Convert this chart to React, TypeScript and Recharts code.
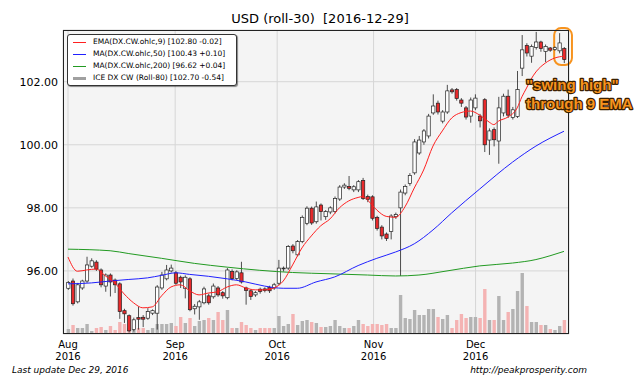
import { ComposedChart, Bar, Line, XAxis, YAxis, CartesianGrid, Cell, ReferenceArea } from "recharts";

// ICE DX CW daily candles, Aug 1 - Dec 29 2016
const opens = [
  95.45, 95.68, 95.02, 95.46, 95.68, 96.15, 96.28, 96.03, 95.52, 95.87,
  95.71, 95.59, 94.74, 94.58, 94.14, 94.52, 94.53, 94.5, 94.66, 94.66,
  95.46, 95.75, 96.0, 95.94, 95.8, 95.45, 95.75, 94.8, 94.86, 94.99,
  95.21, 95.18, 95.46, 95.31, 95.15, 95.98, 95.76, 95.94, 95.46, 95.37,
  95.24, 95.42, 95.43, 95.48, 95.46, 95.61, 96.08, 96.09, 96.79, 96.51,
  96.93, 97.51, 97.99, 97.56, 98.09, 97.72, 97.87, 97.88, 98.28, 98.66,
  98.68, 98.57, 98.57, 98.87, 98.36, 98.35, 97.7, 97.39, 97.17, 97.25,
  97.72, 98.0, 98.47, 98.77, 99.11, 99.74, 100.09, 100.28, 101.01, 101.32,
  100.75, 101.04, 101.74, 101.75, 101.42, 101.17, 100.91, 101.17, 100.91, 101.43,
  100.15, 100.48, 100.12, 101.01, 101.54, 100.87, 100.9, 102.43, 103.15, 102.81,
  103.09, 103.26, 102.96, 103.07, 103.02, 102.98, 103.05,
];
const highs = [
  95.68, 95.76, 95.62, 95.72, 96.45, 96.4, 96.34, 96.08, 95.92, 95.92,
  95.76, 95.64, 94.8, 94.62, 94.52, 94.87, 94.6, 94.82, 94.78, 95.55,
  95.97, 96.19, 96.2, 96.0, 95.85, 95.86, 95.8, 94.95, 95.08, 95.5,
  95.28, 95.6, 95.52, 95.36, 96.09, 96.05, 96.02, 96.29, 95.5, 95.42,
  95.36, 95.47, 95.48, 95.53, 95.62, 96.35, 96.14, 96.82, 96.85, 96.98,
  97.76, 98.05, 98.04, 98.2, 98.14, 97.93, 98.05, 98.36, 98.72, 98.78,
  99.01, 98.72, 98.88, 98.95, 98.42, 98.4, 97.75, 97.45, 97.22, 97.8,
  97.85, 98.58, 98.74, 99.1, 100.18, 100.28, 100.5, 100.98, 101.6, 101.4,
  101.1, 101.9, 101.8, 101.8, 101.48, 101.23, 101.5, 101.6, 100.98, 101.48,
  100.52, 100.55, 101.52, 101.62, 101.75, 101.2, 102.34, 103.48, 103.22, 103.18,
  103.58, 103.3, 103.18, 103.1, 103.12, 103.54, 103.1,
];
const lows = [
  95.4, 94.9, 94.97, 95.4, 95.62, 96.1, 96.0, 95.48, 95.34, 95.19,
  95.3, 94.48, 94.35, 94.05, 94.08, 94.14, 94.22, 94.45, 94.6, 94.14,
  95.4, 95.7, 95.95, 95.56, 95.46, 95.13, 94.72, 94.62, 94.45, 94.94,
  94.93, 95.12, 95.18, 95.12, 95.1, 95.7, 95.7, 95.6, 94.93, 95.08,
  95.18, 95.28, 95.32, 95.3, 95.4, 95.55, 95.98, 96.03, 96.56, 96.46,
  96.88, 97.45, 97.46, 97.5, 97.6, 97.62, 97.8, 97.82, 98.22, 98.6,
  98.56, 98.5, 98.5, 98.25, 98.18, 97.6, 97.28, 97.0, 96.95, 97.0,
  97.65, 95.84, 98.4, 98.7, 99.05, 99.68, 100.0, 100.2, 100.95, 100.96,
  100.68, 100.98, 101.62, 101.4, 101.2, 100.8, 100.7, 101.1, 100.55, 99.77,
  99.68, 99.95, 99.4, 100.9, 100.85, 100.8, 100.85, 102.18, 102.8, 102.6,
  103.02, 102.95, 102.62, 102.95, 102.98, 102.9, 102.59,
];
const closes = [
  95.63, 94.96, 95.56, 95.68, 96.19, 96.32, 96.06, 95.56, 95.87, 95.65,
  95.56, 94.71, 94.64, 94.1, 94.45, 94.47, 94.47, 94.71, 94.74, 95.49,
  95.87, 96.03, 96.09, 95.61, 95.65, 95.8, 94.77, 94.88, 95.02, 95.43,
  94.99, 95.52, 95.24, 95.21, 96.03, 95.76, 95.97, 95.65, 95.38, 95.19,
  95.31, 95.35, 95.38, 95.37, 95.56, 96.09, 96.09, 96.77, 96.64, 96.93,
  97.7, 97.99, 97.52, 98.03, 97.88, 97.88, 98.0, 98.3, 98.66, 98.72,
  98.62, 98.67, 98.83, 98.3, 98.27, 97.67, 97.35, 97.11, 97.03, 97.74,
  97.79, 98.5, 98.68, 99.03, 100.09, 100.15, 100.44, 100.91, 101.23, 101.04,
  101.04, 101.71, 101.68, 101.47, 101.32, 100.88, 101.42, 101.48, 100.76, 100.0,
  100.44, 100.16, 101.17, 101.54, 100.94, 101.11, 101.75, 103.01, 102.91, 103.12,
  103.26, 103.05, 103.12, 103.0, 103.08, 103.23, 102.7,
];
// volume, relative units
const volumes = [
  5, 9, 6, 6, 10, 3, 6, 7, 4, 8,
  4, 12, 10, 6, 4, 6, 6, 4, 6, 10,
  10, 10, 11, 8, 17, 11, 16, 8, 13, 14,
  16, 14, 22, 14, 24, 6, 6, 12, 9, 6,
  4, 6, 6, 6, 6, 18, 8, 10, 20, 9,
  13, 14, 12, 11, 7, 7, 8, 14, 8, 6,
  6, 8, 14, 10, 8, 10, 10, 9, 10, 6,
  6, 39, 16, 15, 24, 19, 19, 25, 25, 17,
  15, 19, 6, 14, 20, 16, 17, 17, 16, 45,
  14, 14, 38, 14, 22, 25, 43, 61, 28, 12,
  12, 9, 9, 5, 4, 8, 14,
];

// indicator lines: [candle index, value]
const ema9 = [
  [0, 96.44], [2, 95.99], [4, 96.03], [6, 96.06], [8, 95.84], [10, 95.62], [12, 95.27],
  [14, 94.99], [16, 94.83], [18, 94.86], [20, 95.21], [22, 95.49], [24, 95.56], [26, 95.37],
  [28, 95.24], [30, 95.3], [32, 95.34], [34, 95.49], [36, 95.56], [38, 95.46], [40, 95.4],
  [42, 95.4], [44, 95.46], [46, 95.68], [48, 96.19], [50, 96.73], [52, 97.11], [54, 97.43],
  [56, 97.65], [58, 98.0], [60, 98.22], [62, 98.33], [63, 98.36], [64, 98.25], [66, 97.93],
  [68, 97.73], [70, 97.7], [72, 98.03], [74, 98.63], [76, 99.2], [78, 99.96], [80, 100.44],
  [82, 100.85], [84, 101.02], [86, 101.07], [88, 100.94], [90, 100.72], [91, 100.64],
  [92, 100.75], [94, 100.88], [96, 101.17], [97, 101.52], [98, 101.8], [99, 102.09],
  [100, 102.31], [102, 102.59], [104, 102.75], [106, 102.81],
];
const ma50 = [
  [0, 95.59], [5, 95.62], [9, 95.68], [13, 95.73], [17, 95.78], [20, 95.86], [23, 95.94],
  [26, 95.89], [30, 95.83], [34, 95.75], [38, 95.65], [42, 95.52], [46, 95.45], [49, 95.45],
  [53, 95.65], [57, 95.81], [62, 96.17], [66, 96.4], [70, 96.6], [74, 96.86], [78, 97.3],
  [82, 97.84], [88, 98.6], [95, 99.45], [100, 99.96], [106, 100.43],
];
const ma200 = [
  [0, 96.69], [9, 96.64], [13, 96.55], [20, 96.4], [27, 96.24], [34, 96.12], [41, 96.02],
  [48, 95.95], [56, 95.91], [64, 95.87], [70, 95.84], [75, 95.87], [81, 96.0], [88, 96.16],
  [95, 96.25], [100, 96.36], [103, 96.48], [106, 96.62],
];

const monthTicks = [0, 22.9, 44.7, 65.3, 87.1];
const monthLabels = ["Aug", "Sep", "Oct", "Nov", "Dec"];
const yearLabel = "2016";
const priceTicks = [96, 98, 100, 102];

const legendItems = [
  { label: "EMA(DX.CW.ohlc,9) [102.80 -0.02]", color: "#ff2020", width: 1 },
  { label: "MA(DX.CW.ohlc,50) [100.43 +0.10]", color: "#2020ff", width: 1 },
  { label: "MA(DX.CW.ohlc,200) [96.62 +0.04]", color: "#229a22", width: 1 },
  { label: "ICE DX CW (Roll-80) [102.70 -0.54]", color: "#a0a0a0", width: 3 },
];

const rows: any[] = opens.map((open, i) => ({
  i,
  open,
  high: highs[i],
  low: lows[i],
  close: closes[i],
  vol: volumes[i],
  ema: null,
  ma50: null,
  ma200: null,
}));
ema9.forEach(([i, v]) => (rows[i].ema = v));
ma50.forEach(([i, v]) => (rows[i].ma50 = v));
ma200.forEach(([i, v]) => (rows[i].ma200 = v));

const FONT = "'DejaVu Sans', sans-serif";

const Candle = (props: any) => {
  const { x, y, width, height, payload } = props;
  if (!payload) return null;
  const { open, close, high, low } = payload;
  const top = Math.min(y, y + height);
  const span = Math.abs(height);
  const ppu = span / (high - low);
  const yOpen = top + (high - open) * ppu;
  const yClose = top + (high - close) * ppu;
  const up = close >= open;
  const cx = x + width / 2;
  const bodyTop = Math.min(yOpen, yClose);
  const bodyH = Math.max(Math.abs(yOpen - yClose), 0.8);
  return (
    <g>
      <line x1={cx} x2={cx} y1={top} y2={top + span} stroke="#222" strokeWidth={0.8} />
      <rect x={x} y={bodyTop} width={width} height={bodyH} fill={up ? "#ffffff" : "#e8292b"} stroke="#222" strokeWidth={0.7} />
    </g>
  );
};

const MonthTick = ({ x, y, payload }: any) => {
  const k = monthTicks.indexOf(payload.value);
  return (
    <text x={x} y={y} textAnchor="middle" fontSize={10} fontFamily={FONT} fill="#000">
      <tspan x={x} dy={6}>{monthLabels[k]}</tspan>
      <tspan x={x} dy={12}>{yearLabel}</tspan>
    </text>
  );
};

const Highlight = (props: any) => {
  const { x, y, width, height } = props;
  return <rect x={x} y={y} width={width} height={height} rx={7} ry={7} fill="none" stroke="#f7931e" strokeWidth={2} />;
};

export default function App() {
  return (
    <div style={{ position: "absolute", left: 0, top: 0, width: 640, height: 379, background: "#fff", fontFamily: FONT }}>
      <div style={{ position: "absolute", left: 0, width: 640, top: 11, textAlign: "center", fontSize: 13 }}>
        USD (roll-30)&nbsp;&nbsp;[2016-12-29]
      </div>
      <ComposedChart width={640} height={379} data={rows} margin={{ top: 30, right: 71, bottom: 0, left: 8 }}>
        <CartesianGrid fill="#f4f4f4" stroke="#d6d6d6" strokeWidth={1} />
        <XAxis
          dataKey="i"
          type="number"
          domain={[-1.07, 107.07]}
          ticks={monthTicks}
          tick={<MonthTick />}
          tickLine={false}
          axisLine={false}
          height={45}
          interval={0}
          allowDataOverflow
        />
        <YAxis
          type="number"
          domain={[94.0, 103.64]}
          ticks={priceTicks}
          tickFormatter={(v: number) => v.toFixed(2)}
          tick={{ fontSize: 11, fill: "#000", fontFamily: FONT }}
          tickLine={false}
          tickSize={0}
          axisLine={false}
          width={55}
          tickMargin={5}
          allowDataOverflow
        />
        <XAxis xAxisId="vol" dataKey="i" type="number" domain={[-1.07, 107.07]} hide />
        <YAxis yAxisId="vol" type="number" domain={[0, 304]} hide />
        <Bar xAxisId="vol" yAxisId="vol" dataKey="vol" barSize={3.4} isAnimationActive={false}>
          {rows.map((r) => (
            <Cell key={r.i} fill={r.close < r.open ? "#f4b3b3" : "#b3b3b3"} />
          ))}
        </Bar>
        <Bar dataKey={(d: any) => [d.low, d.high]} barSize={3.3} shape={<Candle />} isAnimationActive={false} />
        <Line dataKey="ma200" stroke="#229a22" strokeWidth={1} dot={false} type="monotone" connectNulls isAnimationActive={false} />
        <Line dataKey="ma50" stroke="#2020ff" strokeWidth={1} dot={false} type="monotone" connectNulls isAnimationActive={false} />
        <Line dataKey="ema" stroke="#ff2020" strokeWidth={1} dot={false} type="monotone" connectNulls isAnimationActive={false} />
        <ReferenceArea x1={103.9} x2={107.7} y1={102.53} y2={103.7} ifOverflow="visible" shape={<Highlight />} />
      </ComposedChart>
      <div style={{ position: "absolute", left: 63, top: 30, width: 506, height: 304, border: "1px solid #222", boxSizing: "border-box", pointerEvents: "none" }} />
      <div
        style={{
          position: "absolute", left: 67, top: 34, width: 170, height: 52, boxSizing: "border-box",
          background: "#fff", border: "1px solid #333", borderRadius: 3, boxShadow: "1px 1px 1px rgba(0,0,0,0.45)",
          fontSize: 7.5, lineHeight: "12px", paddingTop: 1,
        }}
      >
        {legendItems.map((it) => (
          <div key={it.label} style={{ display: "flex", alignItems: "center", height: 12 }}>
            <span style={{ display: "inline-block", marginLeft: 5, width: 13, height: it.width, background: it.color }} />
            <span style={{ marginLeft: 7, whiteSpace: "nowrap" }}>{it.label}</span>
          </div>
        ))}
      </div>
      <svg width={640} height={379} style={{ position: "absolute", left: 0, top: 0, pointerEvents: "none" }}>
        <g fontFamily="'Liberation Sans', Arial, sans-serif" fontWeight="bold" fontSize={15} fill="#f7931e" stroke="#3a2000" strokeWidth={2.4} paintOrder="stroke" strokeLinejoin="round">
          <text x={526} y={90}>"swing high"</text>
          <text x={526} y={109}>through 9 EMA</text>
        </g>
        <g fontFamily={FONT} fontStyle="italic" fontSize={9} fill="#000">
          <text x={12} y={373}>Last update Dec 29, 2016</text>
          <text x={587} y={373} textAnchor="end">http://peakprosperity.com</text>
        </g>
      </svg>
    </div>
  );
}
